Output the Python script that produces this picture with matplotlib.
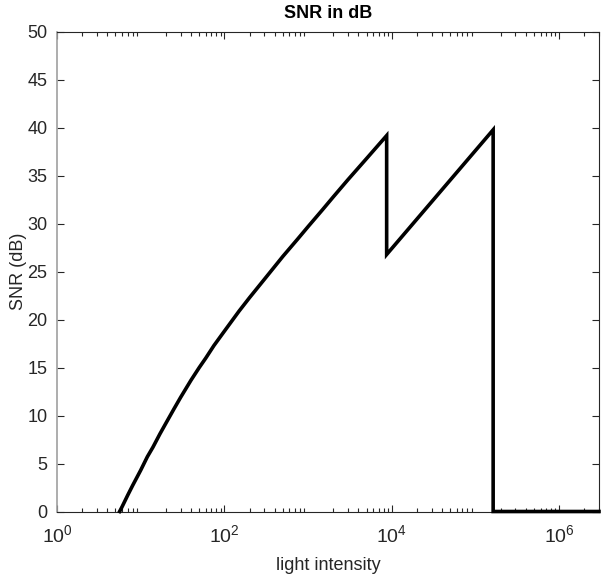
import matplotlib
matplotlib.use("Agg")
import matplotlib.pyplot as plt
from matplotlib.ticker import LogLocator, FixedLocator, NullFormatter

plt.rcParams['font.family'] = ['Liberation Sans', 'DejaVu Sans']
plt.rcParams['mathtext.fontset'] = 'custom'
plt.rcParams['mathtext.rm'] = 'Liberation Sans'
plt.rcParams['mathtext.it'] = 'Liberation Sans:italic'
plt.rcParams['mathtext.bf'] = 'Liberation Sans:bold'

# light intensity values
intensity = [5.6, 6, 7, 8, 10, 12, 14, 17, 20, 25, 30, 40, 50, 60, 75, 100, 150, 200,
             300, 500, 750, 1000, 1500, 2000, 3000, 5000, 8700,
             8700, 163000,
             163000, 3.0e6]
# SNR in dB
snr_db = [0.0, 0.5, 1.7, 2.7, 4.3, 5.7, 6.7, 8.1, 9.2, 10.7, 11.9, 13.7, 15.0, 16.0,
          17.3, 18.8, 20.9, 22.3, 24.2, 26.6, 28.4, 29.7, 31.5, 32.8, 34.6, 36.8, 39.2,
          26.8, 39.8,
          0.0, 0.0]

title = "SNR in dB"
xlabel = "light intensity"
ylabel = "SNR (dB)"
yticks = [0, 5, 10, 15, 20, 25, 30, 35, 40, 45, 50]
xticks = [1e0, 1e2, 1e4, 1e6]
xticklabels = [r"$10^{0}$", r"$10^{2}$", r"$10^{4}$", r"$10^{6}$"]

fig = plt.figure(figsize=(6.03, 5.77), dpi=100)
ax = fig.add_axes([57 / 603, 65.5 / 577, (599 - 57) / 603, (511.5 - 32) / 577])

ax.plot(intensity, snr_db, color='black', linewidth=2.6, solid_joinstyle='miter',
        clip_on=False, zorder=5)

ax.set_xscale('log')
ax.set_xlim(1, 3.0e6)
ax.set_ylim(0, 50)

tc = '#262626'
ax.xaxis.set_major_locator(FixedLocator(xticks))
ax.set_xticklabels(xticklabels)
ax.xaxis.set_minor_locator(LogLocator(base=10, subs=range(2, 10), numticks=100))
ax.xaxis.set_minor_formatter(NullFormatter())
ax.set_yticks(yticks)

ax.tick_params(axis='both', which='both', direction='in', top=True, right=True,
               colors=tc, labelsize=13)
ax.tick_params(axis='x', which='major', labelsize=14)
ax.tick_params(axis='both', which='major', length=5, width=0.8)
ax.tick_params(axis='x', which='minor', length=3, width=0.8)
ax.tick_params(axis='x', which='major', pad=9)
ax.tick_params(axis='y', which='major', pad=7)

for side in ['top', 'right', 'bottom']:
    ax.spines[side].set_color(tc)
    ax.spines[side].set_linewidth(0.8)
ax.spines['left'].set_color('#a0a0a0')
ax.spines['left'].set_linewidth(1.2)

ax.set_xlabel(xlabel, fontsize=13, color=tc, labelpad=8)
ax.set_ylabel(ylabel, fontsize=13, color=tc, labelpad=0)
ax.set_title(title, fontsize=13, fontweight='bold', color='black', pad=10)

fig.savefig("out.png", dpi=100)
